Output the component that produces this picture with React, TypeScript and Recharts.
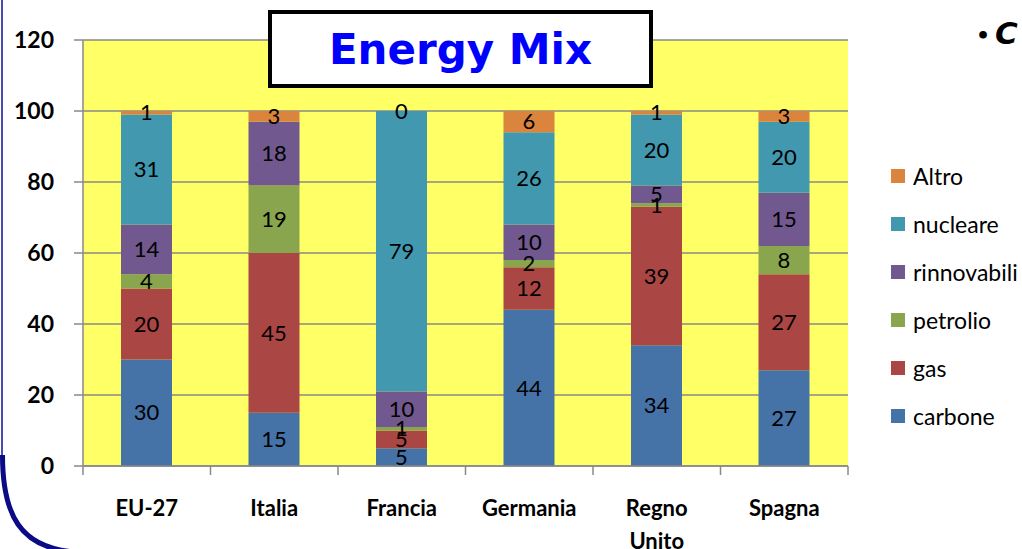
import React from 'react';
import { BarChart, Bar, XAxis, YAxis, CartesianGrid, Legend, LabelList } from 'recharts';

const categories = ['EU-27', 'Italia', 'Francia', 'Germania', 'Regno Unito', 'Spagna'];
const carbone = [30, 15, 5, 44, 34, 27];
const gas = [20, 45, 5, 12, 39, 27];
const petrolio = [4, 19, 1, 2, 1, 8];
const rinnovabili = [14, 18, 10, 10, 5, 15];
const nucleare: (number | null)[] = [31, null, 79, 26, 20, 20];
const altro = [1, 3, 0, 6, 1, 3];
const yTicks = [0, 20, 40, 60, 80, 100, 120];

const seriesKeys = ['carbone', 'gas', 'petrolio', 'rinnovabili', 'nucleare', 'Altro'];
const seriesColors: Record<string, string> = {
  carbone: '#4572A7',
  gas: '#AA4643',
  petrolio: '#89A54E',
  rinnovabili: '#71588F',
  nucleare: '#4198AF',
  Altro: '#DB843D',
};

const data = categories.map((c, i) => ({
  name: c,
  carbone: carbone[i],
  gas: gas[i],
  petrolio: petrolio[i],
  rinnovabili: rinnovabili[i],
  nucleare: nucleare[i],
  Altro: altro[i],
}));

const FONT = 'Lato, "Open Sans", sans-serif';

function XTick(props: any) {
  const { x, y, payload, index } = props;
  const half = payload && typeof payload.offset === 'number' && payload.offset > 0 ? payload.offset : 63.75;
  const words = String(payload.value).split(' ');
  return (
    <g>
      <line x1={x - half} x2={x - half} y1={y} y2={y + 9} stroke="#888" strokeWidth={1.5} />
      {index === categories.length - 1 && (
        <line x1={x + half} x2={x + half} y1={y} y2={y + 9} stroke="#888" strokeWidth={1.5} />
      )}
      {words.map((w, i) => (
        <text key={i} x={x} y={y + 50 + i * 33} textAnchor="middle" fontFamily={FONT} fontWeight="bold" fontSize={22} fill="#000">
          {w}
        </text>
      ))}
    </g>
  );
}

function SegLabel(props: any) {
  const { x, y, width, height, value } = props;
  if (value === null || value === undefined) return null;
  const cx = Number(x) + Number(width) / 2;
  const cy = Number(y) + Number(height) / 2;
  if (!isFinite(cx) || !isFinite(cy)) return null;
  return (
    <text x={cx} y={cy} dy="0.35em" textAnchor="middle" fill="#000" fontSize={22} fontFamily={FONT}>
      {String(value)}
    </text>
  );
}

// Zero-valued top segments have no rectangle of their own; their label sits on top of the segment below.
function ZeroTopLabel(props: any) {
  const { x, y, width, value } = props;
  if (value !== 0) return null;
  const cx = Number(x) + Number(width) / 2;
  const cy = Number(y);
  if (!isFinite(cx) || !isFinite(cy)) return null;
  return (
    <text x={cx} y={cy} dy="0.35em" textAnchor="middle" fill="#000" fontSize={22} fontFamily={FONT}>
      {String(value)}
    </text>
  );
}

function LegendContent() {
  const items = [...seriesKeys].reverse();
  return (
    <div style={{ fontFamily: FONT }}>
      {items.map((k) => (
        <div key={k} style={{ display: 'flex', alignItems: 'center', height: 48, whiteSpace: 'nowrap' }}>
          <span style={{ width: 14, height: 14, background: seriesColors[k], display: 'inline-block', marginRight: 8 }} />
          <span style={{ fontSize: 23, color: '#000' }}>{k}</span>
        </div>
      ))}
    </div>
  );
}

export default function App() {
  return (
    <div style={{ position: 'absolute', left: 0, top: 0, width: 1022, height: 549, overflow: 'hidden', background: '#fff' }}>
      <BarChart width={1022} height={549} data={data} margin={{ top: 40, right: 174, bottom: 0, left: 0 }} barSize={51}>
        <CartesianGrid vertical={false} stroke="#888" strokeWidth={1.5} fill="#FFFF66" fillOpacity={1} />
        <XAxis
          dataKey="name"
          height={83}
          tickSize={0}
          tickMargin={0}
          interval={0}
          axisLine={{ stroke: '#888', strokeWidth: 1.5 }}
          tickLine={false}
          tick={<XTick />}
        />
        <YAxis
          width={83}
          domain={[0, 120]}
          ticks={yTicks}
          interval={0}
          tickSize={9}
          tickMargin={20}
          axisLine={{ stroke: '#888', strokeWidth: 1.5 }}
          tickLine={{ stroke: '#888', strokeWidth: 1.5 }}
          tick={{ fill: '#000', fontSize: 23, fontWeight: 'bold', fontFamily: FONT }}
        />
        <Legend
          layout="vertical"
          verticalAlign="middle"
          align="center"
          content={<LegendContent />}
          wrapperStyle={{ position: 'absolute', left: 891, top: 152, width: 140 }}
        />
        {seriesKeys.map((k) => (
          <Bar key={k} dataKey={k} stackId="a" fill={seriesColors[k]} isAnimationActive={false}>
            <LabelList dataKey={k} content={<SegLabel />} />
            {k === 'nucleare' && <LabelList dataKey="Altro" content={<ZeroTopLabel />} />}
          </Bar>
        ))}
      </BarChart>
      <div
        style={{
          position: 'absolute',
          left: 268,
          top: 10,
          width: 385,
          height: 78,
          boxSizing: 'border-box',
          border: '4px solid #000',
          background: '#fff',
          display: 'flex',
          alignItems: 'center',
          justifyContent: 'center',
          fontFamily: '"DejaVu Sans", sans-serif',
          fontWeight: 'bold',
          fontSize: 42,
          color: '#0000FF',
        }}
      >
        Energy Mix
      </div>
      <div
        style={{
          position: 'absolute',
          left: 976,
          top: 15,
          fontFamily: '"DejaVu Sans", sans-serif',
          fontWeight: 'bold',
          fontStyle: 'italic',
          fontSize: 31,
          color: '#000',
          whiteSpace: 'nowrap',
        }}
      >
        <span style={{ fontSize: 22, verticalAlign: 'middle', marginRight: 5, fontStyle: 'normal' }}>•</span>C
      </div>
      <svg width={1022} height={549} style={{ position: 'absolute', left: 0, top: 0, pointerEvents: 'none' }}>
        <line x1={2} y1={0} x2={2} y2={470} stroke="#4a4ab4" strokeWidth={2} />
        <path d="M2.5 455 C 2.5 515, 20 548, 75 552" fill="none" stroke="#0b0b86" strokeWidth={5} />
      </svg>
    </div>
  );
}
